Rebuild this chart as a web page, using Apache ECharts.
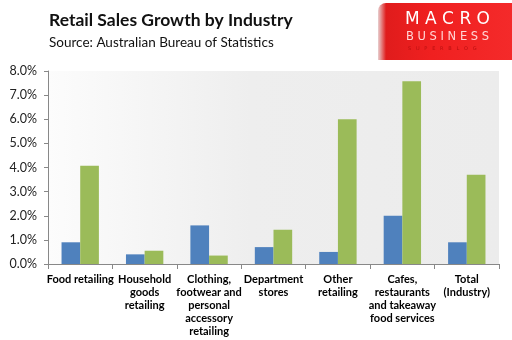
<!DOCTYPE html>
<html><head><meta charset="utf-8">
<script src="https://cdn.jsdelivr.net/npm/echarts@6/dist/echarts.min.js"></script>
<style>html,body{margin:0;padding:0;background:#fff}#c{width:512px;height:340px}</style>
</head><body><div id="c"></div>
<script>
const categories = ["Food retailing","Household\ngoods\nretailing","Clothing,\nfootwear and\npersonal\naccessory\nretailing","Department\nstores","Other\nretailing","Cafes,\nrestaurants\nand takeaway\nfood services","Total\n(Industry)"];
const seriesA = [0.9, 0.4, 1.6, 0.7, 0.5, 2.0, 0.9];
const seriesB = [4.07, 0.55, 0.35, 1.42, 6.0, 7.58, 3.7];
const yTicks = {min: 0, max: 8, interval: 1};
const titleText = "Retail Sales Growth by Industry";
const subtitleText = "Source: Australian Bureau of Statistics";

const chart = echarts.init(document.getElementById('c'), null, {renderer: 'canvas'});
const font = 'Lato, "Open Sans", sans-serif';
chart.setOption({
  animation: false,
  textStyle: {fontFamily: font},
  title: {
    text: titleText, subtext: subtitleText, left: 44, top: 6, itemGap: 7,
    textStyle: {fontSize: 17.5, fontWeight: 'bold', color: '#111', fontFamily: font},
    subtextStyle: {fontSize: 13.5, color: '#111', fontFamily: font}
  },
  graphic: [
    {type: 'rect', right: 0, top: 3, shape: {width: 134, height: 57, r: [8, 0, 0, 0]},
     style: {fill: new echarts.graphic.LinearGradient(0, 0, 1, 0, [{offset: 0, color: '#e8d0d0'}, {offset: 0.06, color: '#e01c1c'}, {offset: 0.4, color: '#f02020'}, {offset: 1, color: '#f42a2a'}])}},
    {type: 'text', left: 405, top: 11, style: {text: 'M A C R O', fill: '#fff', font: '17px "DejaVu Sans", sans-serif'}},
    {type: 'text', left: 406, top: 31, style: {text: 'B U S I N E S S', fill: '#ffd6d6', font: '11.5px "DejaVu Sans", sans-serif'}},
    {type: 'text', left: 408, top: 46, style: {text: 'S   U   P   E   R   B   L   O   G', fill: '#b81010', font: '5px "DejaVu Sans", sans-serif'}}
  ],
  grid: {left: 48, right: 13, top: 71, bottom: 76, show: true, borderWidth: 0,
    backgroundColor: new echarts.graphic.LinearGradient(0, 0, 1, 0, [{offset: 0, color: '#fcfcfc'}, {offset: 0.45, color: '#eeeeee'}, {offset: 1, color: '#ececec'}])},
  xAxis: {
    type: 'category', data: categories,
    axisLine: {lineStyle: {color: '#888', width: 1}},
    axisTick: {show: true, length: 5, lineStyle: {color: '#888'}},
    axisLabel: {interval: 0, color: '#000', fontSize: 11, fontWeight: 'bold', lineHeight: 13, margin: 9, fontFamily: font}
  },
  yAxis: {
    type: 'value', min: yTicks.min, max: yTicks.max, interval: yTicks.interval,
    axisLine: {show: true, lineStyle: {color: '#888'}},
    axisTick: {show: true, length: 4, lineStyle: {color: '#888'}},
    splitLine: {show: false},
    axisLabel: {formatter: v => v.toFixed(1) + '%', color: '#222', fontSize: 12.5, margin: 11, fontFamily: font}
  },
  series: [
    {type: 'bar', data: seriesA, barGap: '0%', barCategoryGap: '42%', itemStyle: {color: '#4f81bd'}},
    {type: 'bar', data: seriesB, itemStyle: {color: '#9bbb59'}}
  ]
});
</script></body></html>
